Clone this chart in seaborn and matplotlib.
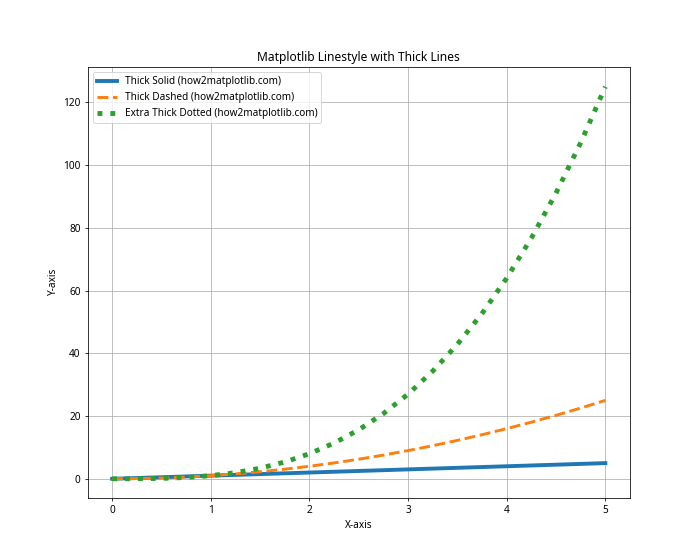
import numpy as np
import pandas as pd
import matplotlib
matplotlib.use("Agg")
import matplotlib.pyplot as plt
import seaborn as sns

x = [0.0, 0.25, 0.5, 0.75, 1.0, 1.25, 1.5, 1.75, 2.0, 2.25, 2.5, 2.75, 3.0,
     3.25, 3.5, 3.75, 4.0, 4.25, 4.5, 4.75, 5.0]
y_solid = [0.0, 0.25, 0.5, 0.75, 1.0, 1.25, 1.5, 1.75, 2.0, 2.25, 2.5, 2.75, 3.0,
           3.25, 3.5, 3.75, 4.0, 4.25, 4.5, 4.75, 5.0]
y_dashed = [0.0, 0.06, 0.25, 0.56, 1.0, 1.56, 2.25, 3.06, 4.0, 5.06, 6.25, 7.56, 9.0,
            10.56, 12.25, 14.06, 16.0, 18.06, 20.25, 22.56, 25.0]
y_dotted = [0.0, 0.02, 0.13, 0.42, 1.0, 1.95, 3.38, 5.36, 8.0, 11.39, 15.63, 20.8, 27.0,
            34.33, 42.88, 52.73, 64.0, 76.77, 91.13, 107.17, 125.0]
labels = ["Thick Solid (how2matplotlib.com)",
          "Thick Dashed (how2matplotlib.com)",
          "Extra Thick Dotted (how2matplotlib.com)"]

plt.rcParams['font.family'] = ['Noto Sans', 'DejaVu Sans']
plt.rcParams['font.size'] = 10.3

fig, ax = plt.subplots(figsize=(10, 8), dpi=70)
sns.lineplot(x=x, y=y_solid, ax=ax, color='#1f77b4', linewidth=4, linestyle='-', label=labels[0])
sns.lineplot(x=x, y=y_dashed, ax=ax, color='#ff7f0e', linewidth=3, linestyle='--', label=labels[1])
sns.lineplot(x=x, y=y_dotted, ax=ax, color='#2ca02c', linewidth=5, linestyle=':', label=labels[2])
ax.set_title("Matplotlib Linestyle with Thick Lines")
ax.set_xlabel("X-axis")
ax.set_ylabel("Y-axis")
ax.grid(True)
ax.legend(loc='upper left')
fig.savefig("out.png", dpi=70)
